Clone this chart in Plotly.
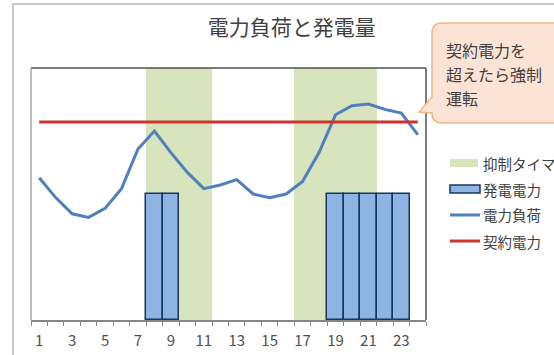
import plotly.graph_objects as go

# ---- data ----
hours = list(range(1, 25))
tick_hours = list(range(1, 24, 2))
suppression = [None] * 7 + [140] * 4 + [None] * 5 + [140] * 5 + [None] * 3
generation = [None] * 7 + [70] * 2 + [None] * 9 + [70] * 5 + [None]
load = [79, 68, 59, 57, 62, 73, 95, 105, 93, 82, 73, 75,
        78, 70, 68, 70, 77, 93, 114, 119, 120, 117, 115, 103]
contract = [110] * 24

names = ["抑制タイマ", "発電電力", "電力負荷", "契約電力"]
title_text = "電力負荷と発電量"
bubble_lines = ["契約電力を", "超えたら強制", "運転"]

# ---- geometry (pixels) ----
W, H = 554, 355
L, R, T, B = 31, 426, 68, 320

def xp(px):
    return (px - L) / (R - L)

def yp(py):
    return (B - py) / (B - T)

FONT = "Noto Sans CJK JP"
GREEN = "#d7e4bd"
BLUE_BAR = "#8eb4e3"
BAR_EDGE = "#17375e"
BLUE_LINE = "#4f7fbc"
RED = "#d0322c"
TXT = "#404040"

fig = go.Figure()
fig.add_trace(go.Bar(x=hours, y=suppression, name=names[0],
                     marker=dict(color=GREEN, line=dict(width=0))))
fig.add_trace(go.Bar(x=hours, y=generation, name=names[1],
                     marker=dict(color=BLUE_BAR, line=dict(color=BAR_EDGE, width=1.5))))
fig.add_trace(go.Scatter(x=hours, y=load, name=names[2], mode="lines",
                         line=dict(color=BLUE_LINE, width=3)))
fig.add_trace(go.Scatter(x=hours, y=contract, name=names[3], mode="lines",
                         line=dict(color=RED, width=3)))

shapes = []
# outer chart frame
shapes.append(dict(type="rect", xref="paper", yref="paper",
                   x0=xp(13), x1=xp(W + 10), y0=yp(H + 10), y1=yp(4),
                   line=dict(color="#c8c8c8", width=2), layer="below"))
# plot area border
shapes.append(dict(type="line", xref="paper", yref="paper", x0=0, x1=1, y0=1, y1=1,
                   line=dict(color="#505050", width=1.5)))
shapes.append(dict(type="line", xref="paper", yref="paper", x0=1, x1=1, y0=0, y1=1,
                   line=dict(color="#505050", width=1.5)))
shapes.append(dict(type="line", xref="paper", yref="paper", x0=0, x1=0, y0=0, y1=1,
                   line=dict(color="#a6a6a6", width=1.5)))

# speech bubble
bl, bt, br, bb, rr = 432, 23, 570, 123, 10
pts = [
    f"M {xp(bl + rr)},{yp(bt)}",
    f"L {xp(br)},{yp(bt)}",
    f"L {xp(br)},{yp(bb)}",
    f"L {xp(bl + rr)},{yp(bb)}",
    f"Q {xp(bl)},{yp(bb)} {xp(bl)},{yp(bb - rr)}",
    f"L {xp(bl)},{yp(113)}",
    f"L {xp(419)},{yp(112)}",
    f"L {xp(bl)},{yp(97)}",
    f"L {xp(bl)},{yp(bt + rr)}",
    f"Q {xp(bl)},{yp(bt)} {xp(bl + rr)},{yp(bt)}",
    "Z",
]
shapes.append(dict(type="path", xref="paper", yref="paper", path=" ".join(pts),
                   fillcolor="#fbe4d5", line=dict(color="#e8b888", width=1.5)))

# manual legend symbols
lx0, lx1 = 450, 480
rows = [163, 189, 215, 241]
shapes.append(dict(type="rect", xref="paper", yref="paper",
                   x0=xp(lx0), x1=xp(lx1 - 2), y0=yp(rows[0] + 4), y1=yp(rows[0] - 4),
                   fillcolor=GREEN, line=dict(width=0)))
shapes.append(dict(type="rect", xref="paper", yref="paper",
                   x0=xp(lx0), x1=xp(lx1), y0=yp(rows[1] + 4), y1=yp(rows[1] - 4),
                   fillcolor=BLUE_BAR, line=dict(color=BAR_EDGE, width=1.5)))
shapes.append(dict(type="line", xref="paper", yref="paper",
                   x0=xp(lx0), x1=xp(lx1), y0=yp(rows[2]), y1=yp(rows[2]),
                   line=dict(color=BLUE_LINE, width=3)))
shapes.append(dict(type="line", xref="paper", yref="paper",
                   x0=xp(lx0), x1=xp(lx1), y0=yp(rows[3]), y1=yp(rows[3]),
                   line=dict(color=RED, width=3)))

annotations = []
for nm, ry in zip(names, rows):
    annotations.append(dict(xref="paper", yref="paper", x=xp(481), y=yp(ry),
                            xanchor="left", yanchor="middle", showarrow=False,
                            text=nm, font=dict(family=FONT, size=14.5, color=TXT)))
for line, ly in zip(bubble_lines, [50, 74, 98]):
    annotations.append(dict(xref="paper", yref="paper", x=xp(444), y=yp(ly),
                            xanchor="left", yanchor="middle", showarrow=False,
                            text=line, font=dict(family=FONT, size=16, color=TXT)))

fig.update_layout(
    width=W, height=H,
    margin=dict(l=L, r=W - R, t=T, b=H - B, pad=0, autoexpand=False),
    paper_bgcolor="white", plot_bgcolor="white",
    barmode="overlay", bargap=0,
    showlegend=False,
    title=dict(text=title_text, x=291.7 / W, xref="container", xanchor="center",
               y=1 - 27.5 / H, yref="container", yanchor="middle",
               font=dict(family=FONT, size=21, color=TXT)),
    xaxis=dict(range=[0.5, 24.5], tickvals=tick_hours, ticktext=[str(h) for h in tick_hours],
               ticks="", showgrid=False, zeroline=False, automargin=False,
               showline=True, linecolor="#868686", linewidth=1.5,
               tickfont=dict(family=FONT, size=15, color="#505050"),
               ticklabelstandoff=6,
               minor=dict(tickvals=[k + 0.5 for k in range(25)], ticks="outside",
                          ticklen=4, tickcolor="#868686", tickwidth=1, showgrid=False)),
    yaxis=dict(range=[0, 140], visible=False, showgrid=False, zeroline=False,
               automargin=False),
    shapes=shapes,
    annotations=annotations,
    font=dict(family=FONT),
)

fig.write_html(
    "out.html",
    config={"displayModeBar": False},
    post_script="document.body.style.margin='0';document.body.style.overflow='hidden';",
)
